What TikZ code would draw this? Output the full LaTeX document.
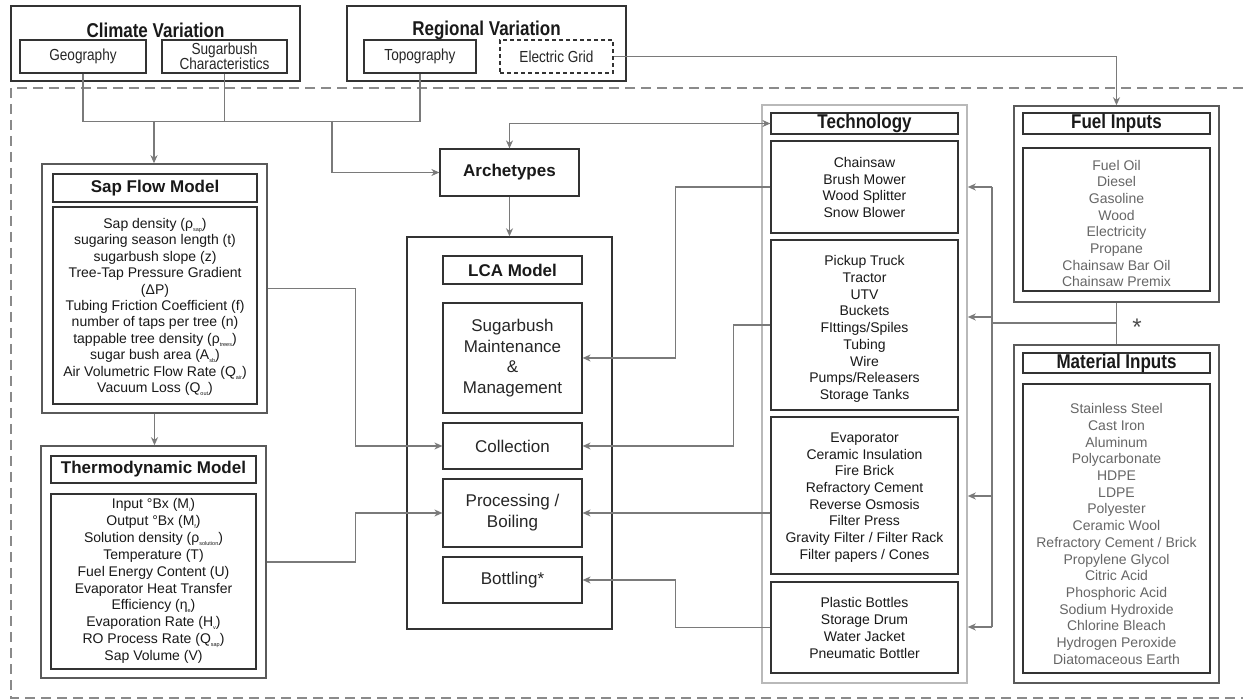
\documentclass[tikz,border=0pt]{standalone}
\usepackage{fontspec}
\setmainfont{Liberation Sans}
\newfontfamily\narrowfont[FakeStretch=0.85]{Liberation Sans}
\usetikzlibrary{arrows.meta}
\definecolor{frame}{HTML}{333333}
\definecolor{outerc}{HTML}{5A5A5A}
\definecolor{connc}{HTML}{7A7A7A}
\definecolor{lighttxt}{HTML}{666666}
\definecolor{dashc}{HTML}{8A8A8A}
\newcommand{\sbs}[1]{\raisebox{-3pt}{\fontsize{5.5}{6}\selectfont #1}}
\begin{document}
\begin{tikzpicture}[x=1pt,y=-1pt,
  box/.style={draw=frame,line width=1.2pt,inner sep=0pt,align=center},
  outerbox/.style={draw=outerc,line width=1.5pt,inner sep=0pt},
  ttl/.style={font=\narrowfont\bfseries\fontsize{20}{22}\selectfont,text=black!90},
  smalltxt/.style={font=\narrowfont\fontsize{16}{15}\selectfont,text=black!85,align=center},
  bttl/.style={font=\bfseries\fontsize{17}{20}\selectfont,text=black!90},
  lcatxt/.style={font=\fontsize{17}{20.5}\selectfont,text=black!85,align=center},
  lst/.style={font=\fontsize{14}{16.7}\selectfont,align=center,text=black!90,inner sep=0pt},
  glst/.style={lst,text=lighttxt},
  conn/.style={draw=connc,line width=1.2pt},
  arr/.style={conn,-{Stealth[length=8pt,width=7pt,inset=2.5pt]}},
  barr/.style={conn,{Stealth[length=8pt,width=7pt,inset=2.5pt]}-{Stealth[length=8pt,width=7pt,inset=2.5pt]}}
]
\useasboundingbox (0,0) rectangle (1243,700);
\fill[white] (0,0) rectangle (1243,700);

% dashed frame
\draw[dashc,line width=2pt,dash pattern=on 10pt off 6pt] (1243,88) -- (11,88) -- (11,698) -- (1243,698);

% top row
\node[outerbox,draw=frame,minimum width=289pt,minimum height=75pt] (climate) at (155.5,43.5) {};
\node[ttl] (climateT) at (155.5,30) {Climate Variation};
\node[box,smalltxt,minimum width=126pt,minimum height=33pt] (geo) at (83,56.5) {Geography};
\node[box,smalltxt,minimum width=125pt,minimum height=33pt] (sugar) at (224.5,56.5) {Sugarbush\\Characteristics};

\node[outerbox,draw=frame,minimum width=279pt,minimum height=75pt] (regional) at (486.5,43.5) {};
\node[ttl] (regionalT) at (486.5,30) {Regional Variation};
\node[box,smalltxt,minimum width=112pt,minimum height=33pt] (topo) at (420,56.5) {Topography};
\node[box,smalltxt,dash pattern=on 4pt off 3pt,minimum width=113pt,minimum height=33pt] (grid) at (556.5,56.5) {Electric Grid};

% sap flow model
\node[outerbox,minimum width=225pt,minimum height=249pt] (sapOuter) at (154.5,288.5) {};
\node[box,bttl,minimum width=204pt,minimum height=28pt] (sapTitle) at (155,188) {Sap Flow Model};
\node[box,minimum width=204pt,minimum height=197pt] (sapBody) at (155,305.5) {};
\node[lst,font=\fontsize{14}{16.4}\selectfont] (sapTxt) at (155,307) {Sap density (ρ\sbs{sap})\\sugaring season length (t)\\sugarbush slope (z)\\Tree-Tap Pressure Gradient\\(ΔP)\\Tubing Friction Coefficient (f)\\number of taps per tree (n)\\tappable tree density (ρ\sbs{trees})\\sugar bush area (A\sbs{sb})\\Air Volumetric Flow Rate (Q\sbs{air})\\Vacuum Loss (Q\sbs{out})};

% thermodynamic model
\node[outerbox,minimum width=225pt,minimum height=232pt] (thermOuter) at (153.5,562) {};
\node[box,bttl,minimum width=205pt,minimum height=27pt] (thermTitle) at (153.5,469.5) {Thermodynamic Model};
\node[box,minimum width=205pt,minimum height=175pt] (thermBody) at (153.5,581.5) {};
\node[lst,font=\fontsize{14}{16.9}\selectfont] (thermTxt) at (153.5,581) {Input °Bx (M\sbs{i})\\Output °Bx (M\sbs{f})\\Solution density (ρ\sbs{solution})\\Temperature (T)\\Fuel Energy Content (U)\\Evaporator Heat Transfer\\Efficiency (η\sbs{e})\\Evaporation Rate (H\sbs{v})\\RO Process Rate (Q\sbs{sap})\\Sap Volume (V)};

% archetypes and LCA
\node[box,bttl,minimum width=139pt,minimum height=47pt] (arche) at (509.5,172.5) {Archetypes};
\node[box,line width=1.4pt,minimum width=205pt,minimum height=392pt] (lcaOuter) at (509.5,433) {};
\node[box,bttl,minimum width=139pt,minimum height=28pt] (lcaTitle) at (512.5,270) {LCA Model};
\node[box,lcatxt,minimum width=139pt,minimum height=110pt] (maint) at (512.5,358) {Sugarbush\\Maintenance\\\&\\Management};
\node[box,lcatxt,minimum width=139pt,minimum height=46pt] (coll) at (512.5,446) {Collection};
\node[box,lcatxt,font=\fontsize{17}{21}\selectfont,minimum width=139pt,minimum height=68pt] (proc) at (512.5,513) {Processing /\\Boiling};
\node[box,lcatxt,minimum width=139pt,minimum height=46pt] (bott) at (512.5,580) {Bottling*};

% technology
\node[outerbox,draw=gray!55,line width=1.6pt,minimum width=205pt,minimum height=578pt] (techOuter) at (864.5,394) {};
\node[box,ttl,minimum width=187pt,minimum height=21pt] (techTitle) at (864.5,123.5) {Technology};
\node[box,minimum width=187pt,minimum height=92pt] (tech1) at (864.5,187) {};
\node[box,minimum width=187pt,minimum height=170pt] (tech2) at (864.5,325) {};
\node[box,minimum width=187pt,minimum height=157pt] (tech3) at (864.5,495.5) {};
\node[box,minimum width=187pt,minimum height=91pt] (tech4) at (864.5,627.5) {};
\node[lst] (tech1Txt) at (864.5,187.5) {Chainsaw\\Brush Mower\\Wood Splitter\\Snow Blower};
\node[lst] (tech2Txt) at (864.5,329) {Pickup Truck\\Tractor\\UTV\\Buckets\\FIttings/Spiles\\Tubing\\Wire\\Pumps/Releasers\\Storage Tanks};
\node[lst] (tech3Txt) at (864.5,497.5) {Evaporator\\Ceramic Insulation\\Fire Brick\\Refractory Cement\\Reverse Osmosis\\Filter Press\\Gravity Filter / Filter Rack\\Filter papers / Cones};
\node[lst] (tech4Txt) at (864.5,628) {Plastic Bottles\\Storage Drum\\Water Jacket\\Pneumatic Bottler};

% fuel inputs
\node[outerbox,minimum width=205pt,minimum height=196pt] (fuelOuter) at (1116.5,204) {};
\node[box,ttl,minimum width=187pt,minimum height=21pt] (fuelTitle) at (1116.5,123.5) {Fuel Inputs};
\node[box,minimum width=187pt,minimum height=143pt] (fuelBody) at (1116.5,219.5) {};
\node[glst] (fuelTxt) at (1116.5,223.5) {Fuel Oil\\Diesel\\Gasoline\\Wood\\Electricity\\Propane\\Chainsaw Bar Oil\\Chainsaw Premix};

% material inputs
\node[outerbox,minimum width=205pt,minimum height=338pt] (matOuter) at (1116.5,514) {};
\node[box,ttl,minimum width=187pt,minimum height=20pt] (matTitle) at (1116.5,363) {Material Inputs};
\node[box,minimum width=187pt,minimum height=289pt] (matBody) at (1116.5,528.5) {};
\node[glst] (matTxt) at (1116.5,534) {Stainless Steel\\Cast Iron\\Aluminum\\Polycarbonate\\HDPE\\LDPE\\Polyester\\Ceramic Wool\\Refractory Cement / Brick\\Propylene Glycol\\Citric Acid\\Phosphoric Acid\\Sodium Hydroxide\\Chlorine Bleach\\Hydrogen Peroxide\\Diatomaceous Earth};

% connectors: top
\coordinate (busA) at (154,121);
\coordinate (busB) at (332,121);
\draw[conn] (geo.south) -- ++(0,48) -| (topo.south);
\draw[conn] (sugar.south) -- ++(0,48);
\draw[arr] (busA) -- (sapOuter.north -| busA);
\draw[arr] (busB) |- (arche.west);
\draw[arr] (grid.east) -| (fuelOuter.north);
\draw[barr] (arche.north) |- (techTitle.west);
\draw[arr] (arche.south) -- (lcaOuter.north);
\draw[arr] (sapOuter.south) -- (sapOuter.south |- thermOuter.north);

% models to LCA
\draw[arr] (sapOuter.east) -- ++(88,0) |- (coll.west);
\draw[arr] (thermOuter.east) -- ++(89,0) |- (proc.west);

% technology to LCA
\draw[arr] (tech1.west) -- ++(-95,0) |- (maint.east);
\draw[arr] (tech2.west) -- ++(-37,0) |- (coll.east);
\draw[arr] (tech3.west |- proc.east) -- (proc.east);
\draw[arr] (tech4.west) -- ++(-95,0) |- (bott.east);

% fuel / material bus
\coordinate (bus) at (992,323);
\coordinate (b1) at (992,187);
\coordinate (b2) at (992,317);
\coordinate (b3) at (992,496);
\coordinate (b4) at (992,627);
\draw[conn] (fuelOuter.south) -- (matOuter.north);
\draw[conn] (fuelOuter.south |- bus) -- (bus);
\draw[conn] (b1) -- (b4);
\draw[arr] (b1) -- (techOuter.east |- b1);
\draw[arr] (b2) -- (techOuter.east |- b2);
\draw[arr] (b3) -- (techOuter.east |- b3);
\draw[arr] (b4) -- (techOuter.east |- b4);
\node[font=\fontsize{24}{24}\selectfont,text=black!70] (star) at (1137,327) {*};
\end{tikzpicture}
\end{document}
